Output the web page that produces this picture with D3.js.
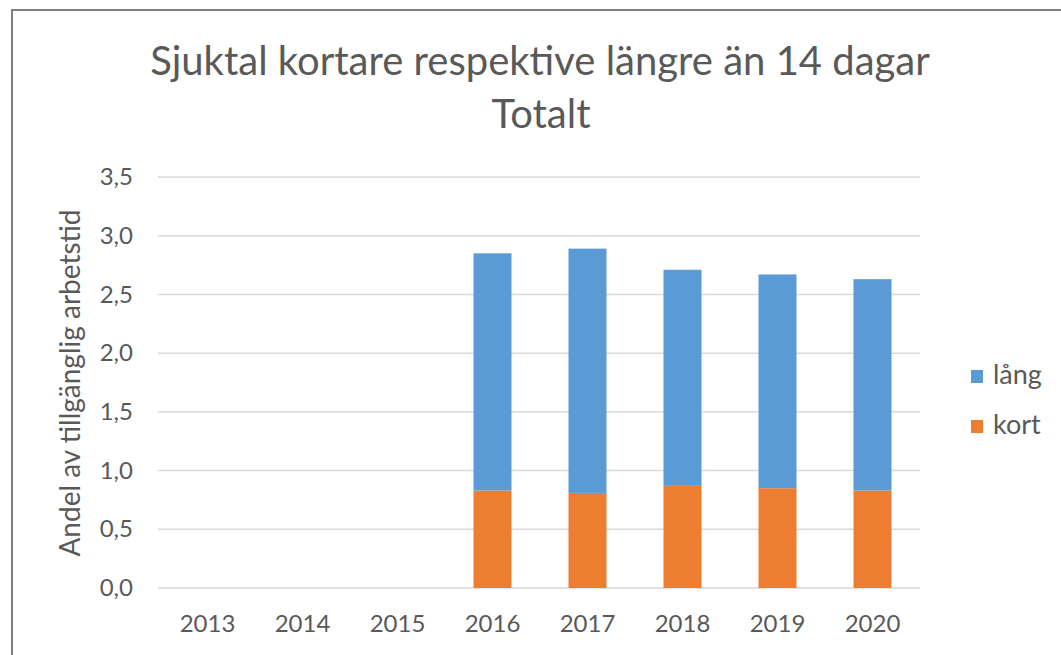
<!DOCTYPE html>
<html>
<head>
<meta charset="utf-8">
<script src="https://cdn.jsdelivr.net/npm/d3@7"></script>
<style>
  body { margin: 0; background: #fff; }
  text { font-family: Lato, "Open Sans", sans-serif; fill: #595959; }
</style>
</head>
<body>
<div id="chart"></div>
<script>
// data
const years = ["2013", "2014", "2015", "2016", "2017", "2018", "2019", "2020"];
const kort = [null, null, null, 0.83, 0.81, 0.87, 0.85, 0.83];
const lang = [null, null, null, 2.02, 2.08, 1.84, 1.82, 1.80];
const yTicks = [0, 0.5, 1, 1.5, 2, 2.5, 3, 3.5];
const seriesNames = ["lång", "kort"];
const colors = { "lång": "#5b9bd5", "kort": "#ed7d31" };

const width = 1061, height = 655;
const svg = d3.select("#chart").append("svg")
  .attr("width", width)
  .attr("height", height);

// chart frame
svg.append("rect")
  .attr("x", 12).attr("y", 10)
  .attr("width", 1070).attr("height", 700)
  .attr("fill", "#fff")
  .attr("stroke", "#7f7f7f")
  .attr("stroke-width", 2);

const xScale = d3.scaleBand().domain(years).range([160, 920]).paddingInner(0.6).paddingOuter(0.3);
const yScale = d3.scaleLinear().domain([0, 3.5]).range([588, 177]);

// gridlines
svg.append("g")
  .selectAll("line")
  .data(yTicks)
  .enter()
  .append("line")
  .attr("x1", 158).attr("x2", 920)
  .attr("y1", d => yScale(d)).attr("y2", d => yScale(d))
  .attr("stroke", "#d9d9d9")
  .attr("stroke-width", 1.5);

// stacked bars
const rows = years.map((y, i) => ({ year: y, "kort": kort[i] || 0, "lång": lang[i] || 0 }));
const stack = d3.stack().keys(["kort", "lång"])(rows);

svg.append("g")
  .selectAll("g")
  .data(stack)
  .enter()
  .append("g")
  .attr("fill", d => colors[d.key])
  .selectAll("rect")
  .data(d => d.filter(p => p[1] > p[0]))
  .enter()
  .append("rect")
  .attr("x", d => xScale(d.data.year))
  .attr("width", xScale.bandwidth())
  .attr("y", d => yScale(d[1]))
  .attr("height", d => yScale(d[0]) - yScale(d[1]));

// y axis
const yAxis = d3.axisLeft(yScale)
  .tickValues(yTicks)
  .tickSize(0)
  .tickPadding(0)
  .tickFormat(d => d3.format(".1f")(d).replace(".", ","));
const yg = svg.append("g")
  .attr("transform", "translate(133, 0)")
  .call(yAxis);
yg.select(".domain").remove();
yg.selectAll("text").style("font-size", "24px").attr("fill", "#595959");

// x axis
const xAxis = d3.axisBottom(xScale).tickSize(0).tickPadding(0);
const xg = svg.append("g")
  .attr("transform", "translate(0, 0)")
  .call(xAxis);
xg.select(".domain").remove();
xg.selectAll("text").attr("dy", null).attr("y", 632).style("font-size", "24px").attr("fill", "#595959");

// y label
svg.append("text")
  .attr("transform", "translate(80, 383) rotate(-90)")
  .attr("text-anchor", "middle")
  .style("font-size", "28px")
  .text("Andel av tillgänglig arbetstid");

// title
svg.append("text")
  .attr("x", 540).attr("y", 75)
  .attr("text-anchor", "middle")
  .style("font-size", "40px")
  .text("Sjuktal kortare respektive längre än 14 dagar");
svg.append("text")
  .attr("x", 541).attr("y", 128)
  .attr("text-anchor", "middle")
  .style("font-size", "40px")
  .text("Totalt");

// legend
const legend = svg.append("g")
  .selectAll("g")
  .data(seriesNames)
  .enter()
  .append("g")
  .attr("transform", (d, i) => `translate(971, ${370 + i * 50})`);
legend.append("rect")
  .attr("width", 12).attr("height", 13)
  .attr("fill", d => colors[d]);
legend.append("text")
  .attr("x", 22).attr("y", 14)
  .style("font-size", "27px")
  .text(d => d);
</script>
</body>
</html>
